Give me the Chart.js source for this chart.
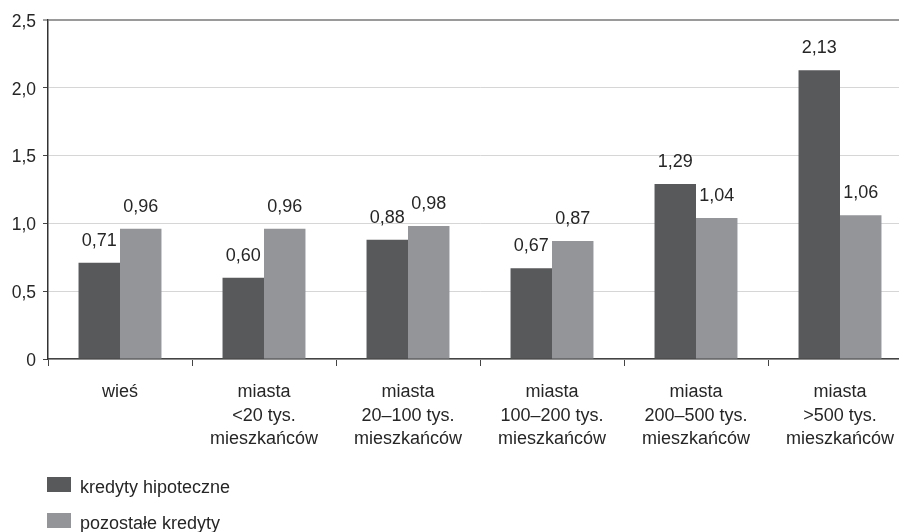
<!DOCTYPE html>
<html lang="pl">
<head>
<meta charset="utf-8">
<title>Kredyty hipoteczne i pozostałe kredyty</title>
<script src="https://cdn.jsdelivr.net/npm/chart.js@4/dist/chart.umd.min.js"></script>
<style>
  html, body { margin: 0; padding: 0; background: #fff; overflow: hidden; }
  #wrap { width: 920px; height: 532px; }
</style>
</head>
<body>
<div id="wrap"><canvas id="chart" width="920" height="532"></canvas></div>
<script>
// Kategorie miejsca zamieszkania (etykiety wielowierszowe)
const categories = [
  ['wieś'],
  ['miasta', '<20 tys.', 'mieszkańców'],
  ['miasta', '20–100 tys.', 'mieszkańców'],
  ['miasta', '100–200 tys.', 'mieszkańców'],
  ['miasta', '200–500 tys.', 'mieszkańców'],
  ['miasta', '>500 tys.', 'mieszkańców']
];
const seriesNames = ['kredyty hipoteczne', 'pozostałe kredyty'];
const mortgageValues = [0.71, 0.60, 0.88, 0.67, 1.29, 2.13];
const otherValues = [0.96, 0.96, 0.98, 0.87, 1.04, 1.06];
const yTicks = [0, 0.5, 1.0, 1.5, 2.0, 2.5];

const FONT = '"Liberation Sans", Arial, sans-serif';
const TEXT = '#262626';
const DARK = '#58595b';
const LIGHT = '#939598';

const fmt = (v, digits) => v === 0 ? '0' : v.toFixed(digits).replace('.', ',');

// Wartości nad słupkami
const valueLabels = {
  id: 'valueLabels',
  afterDatasetsDraw(chart) {
    const ctx = chart.ctx;
    ctx.save();
    ctx.font = '18px ' + FONT;
    ctx.fillStyle = TEXT;
    ctx.textAlign = 'center';
    ctx.textBaseline = 'bottom';
    chart.data.datasets.forEach((ds, i) => {
      chart.getDatasetMeta(i).data.forEach((bar, j) => {
        ctx.fillText(fmt(ds.data[j], 2), bar.x, bar.y - 13);
      });
    });
    ctx.restore();
  }
};

// Legenda pionowa pod wykresem
const stackedLegend = {
  id: 'stackedLegend',
  afterDraw(chart) {
    const ctx = chart.ctx;
    ctx.save();
    ctx.font = '18px ' + FONT;
    ctx.textAlign = 'left';
    ctx.textBaseline = 'alphabetic';
    chart.data.datasets.forEach((ds, i) => {
      const top = 477 + i * 36;
      ctx.fillStyle = ds.backgroundColor;
      ctx.fillRect(47, top, 24, 15);
      ctx.fillStyle = TEXT;
      ctx.fillText(ds.label, 80, top + 16);
    });
    ctx.restore();
  }
};

new Chart(document.getElementById('chart'), {
  type: 'bar',
  data: {
    labels: categories,
    datasets: [
      { label: seriesNames[0], data: mortgageValues, backgroundColor: DARK },
      { label: seriesNames[1], data: otherValues, backgroundColor: LIGHT }
    ]
  },
  options: {
    responsive: false,
    animation: false,
    layout: { padding: { left: 0, top: 20, right: 8, bottom: 0 } },
    datasets: { bar: { categoryPercentage: 0.576, barPercentage: 1.0 } },
    plugins: {
      legend: { display: false },
      tooltip: { enabled: false }
    },
    scales: {
      x: {
        afterFit(scale) { scale.height = 173; },
        grid: {
          offset: true,
          drawOnChartArea: false,
          drawTicks: true,
          tickLength: 7,
          tickColor: '#444',
          tickWidth: 1
        },
        border: { display: true, color: '#444', width: 1.5 },
        ticks: {
          color: TEXT,
          font: { family: FONT, size: 18, lineHeight: 1.28 },
          padding: 15,
          maxRotation: 0,
          autoSkip: false
        }
      },
      y: {
        min: 0,
        max: 2.5,
        afterFit(scale) { scale.width = 48; },
        afterBuildTicks(scale) { scale.ticks = yTicks.map(v => ({ value: v })); },
        grid: {
          color: ctx => ctx.tick && ctx.tick.value === 2.5 ? '#9a9a9a' : '#d6d6d6',
          lineWidth: ctx => ctx.tick && ctx.tick.value === 2.5 ? 2 : 1,
          drawTicks: true,
          tickLength: 5,
          tickColor: '#444',
          tickWidth: 1
        },
        border: { display: true, color: '#333', width: 1.5 },
        ticks: {
          color: TEXT,
          font: { family: FONT, size: 17.5 },
          padding: 7,
          labelOffset: 2,
          callback: v => fmt(v, 1)
        }
      }
    }
  },
  plugins: [valueLabels, stackedLegend]
});
</script>
</body>
</html>
